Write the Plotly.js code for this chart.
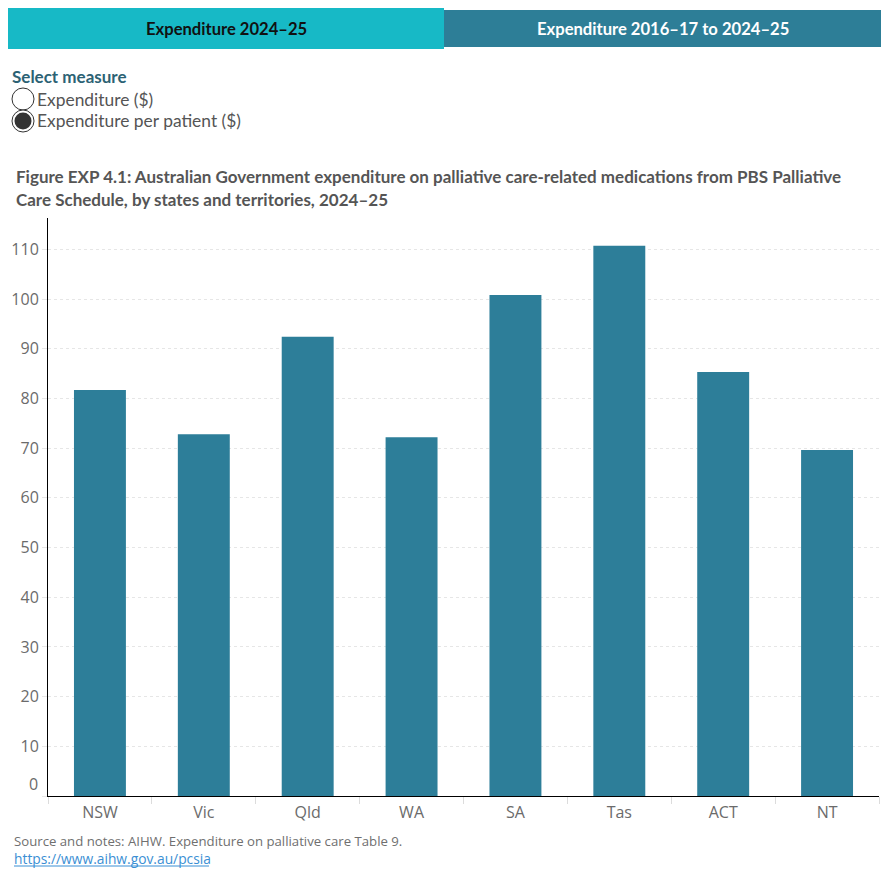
<!DOCTYPE html>
<html>
<head>
<meta charset="utf-8">
<script src="https://cdn.plot.ly/plotly-3.0.1.min.js"></script>
<style>html,body{margin:0;padding:0;background:#fff;}</style>
</head>
<body>
<div id="chart" style="width:890px;height:880px;"></div>
<script>
// Expenditure per patient ($), PBS Palliative Care Schedule, 2024–25
const states = ['NSW', 'Vic', 'Qld', 'WA', 'SA', 'Tas', 'ACT', 'NT'];
const perPatient = [81.7, 72.8, 92.4, 72.2, 100.8, 110.7, 85.3, 69.6];
const yTickVals = [0, 10, 20, 30, 40, 50, 60, 70, 80, 90, 100, 110];
const yTickText = ['', '10', '20', '30', '40', '50', '60', '70', '80', '90', '100', '110'];

const W = 890, H = 880;
const M = {l: 48, r: 11, t: 218, b: 84};
const PW = W - M.l - M.r, PH = H - M.t - M.b;
// page pixel -> paper coordinates
const px = x => (x - M.l) / PW;
const py = y => (H - M.b - y) / PH;

const barColor = '#2d7e99';
const baseFont = 'Open Sans, Noto Sans, sans-serif';
const headFont = 'Lato, Noto Sans, sans-serif';

// text placed at a page position; annotations carry 2px of padding on the left
function label(text, x, y, opts) {
  return Object.assign({
    text: text, xref: 'paper', yref: 'paper', x: px(x - 2), y: py(y),
    xanchor: 'left', yanchor: 'middle', showarrow: false,
    font: {family: baseFont, size: 15, color: '#555'}
  }, opts || {});
}

const shapes = [
  // view tabs
  {type: 'rect', xref: 'paper', yref: 'paper', x0: px(8), x1: px(444), y0: py(49), y1: py(8),
   fillcolor: '#17b9c6', line: {width: 0}, layer: 'above'},
  {type: 'rect', xref: 'paper', yref: 'paper', x0: px(444), x1: px(881), y0: py(47), y1: py(10),
   fillcolor: '#2d7e97', line: {width: 0}, layer: 'above'},
  // measure radio buttons
  {type: 'circle', xref: 'paper', yref: 'paper', x0: px(12), x1: px(34), y0: py(110), y1: py(88),
   fillcolor: '#ffffff', line: {color: '#333', width: 1}},
  {type: 'circle', xref: 'paper', yref: 'paper', x0: px(12), x1: px(34), y0: py(132), y1: py(110),
   fillcolor: '#ffffff', line: {color: '#333', width: 1}},
  {type: 'circle', xref: 'paper', yref: 'paper', x0: px(14.5), x1: px(31.5), y0: py(129.5), y1: py(112.5),
   fillcolor: '#333333', line: {width: 0}},
  // link underline
  {type: 'line', xref: 'paper', yref: 'paper', x0: px(14), x1: px(209), y0: py(866), y1: py(866),
   line: {color: '#3b8fd4', width: 1}}
];

const annotations = [
  {text: '<b>Expenditure 2024–25</b>', xref: 'paper', yref: 'paper', x: px(226), y: py(29),
   xanchor: 'center', yanchor: 'middle', showarrow: false,
   font: {family: headFont, size: 16.6, color: '#111'}},
  {text: '<b>Expenditure 2016–17 to 2024–25</b>', xref: 'paper', yref: 'paper', x: px(663), y: py(29),
   xanchor: 'center', yanchor: 'middle', showarrow: false,
   font: {family: headFont, size: 16.6, color: '#ffffff'}},
  label('<b>Select measure</b>', 12, 76, {font: {family: headFont, size: 17, color: '#2c6274'}}),
  label('Expenditure ($)', 37, 99, {font: {family: headFont, size: 17.4, color: '#555'}}),
  label('Expenditure per patient ($)', 37, 121, {font: {family: headFont, size: 17.4, color: '#555'}}),
  label('<b>Figure EXP 4.1: Australian Government expenditure on palliative care-related medications from PBS Palliative</b>',
        16, 177, {font: {family: headFont, size: 17, color: '#555'}}),
  label('<b>Care Schedule, by states and territories, 2024–25</b>',
        16, 199, {font: {family: headFont, size: 17, color: '#555'}}),
  // zero label sits just above the baseline
  {text: '0', xref: 'paper', yref: 'y', x: 0, y: 0, xanchor: 'right', yanchor: 'middle',
   xshift: -8, yshift: 12, showarrow: false, font: {family: baseFont, size: 16, color: '#6b6b6b'}},
  label('Source and notes: AIHW. Expenditure on palliative care Table 9.', 14, 841,
        {font: {family: baseFont, size: 13.2, color: '#6f6f6f'}}),
  label('https://www.aihw.gov.au/pcsia', 14, 858,
        {font: {family: baseFont, size: 13.8, color: '#3b8fd4'}})
];

const data = [{
  type: 'bar', x: states, y: perPatient,
  marker: {color: barColor, line: {width: 0}},
  hoverinfo: 'x+y'
}];

const layout = {
  width: W, height: H,
  margin: M,
  paper_bgcolor: '#ffffff', plot_bgcolor: '#ffffff',
  bargap: 0.5,
  showlegend: false,
  xaxis: {
    type: 'category', categoryorder: 'array', categoryarray: states,
    showline: true, linecolor: '#000', linewidth: 1,
    ticks: 'outside', tickson: 'boundaries', ticklen: 7, tickcolor: '#dcdcdc',
    ticklabelstandoff: 2,
    showgrid: false, zeroline: false,
    tickfont: {family: baseFont, size: 16, color: '#6b6b6b'},
    fixedrange: true
  },
  yaxis: {
    range: [0, 116.3],
    tickvals: yTickVals, ticktext: yTickText,
    showline: true, linecolor: '#000', linewidth: 1,
    ticks: 'outside', ticklen: 5, tickcolor: '#e6e6e6',
    showgrid: true, gridcolor: '#e6e6e6', griddash: 'dot', gridwidth: 1,
    zeroline: false,
    tickfont: {family: baseFont, size: 16, color: '#6b6b6b'},
    fixedrange: true
  },
  shapes: shapes,
  annotations: annotations
};

Plotly.newPlot('chart', data, layout, {displayModeBar: false, staticPlot: true});
</script>
</body>
</html>
